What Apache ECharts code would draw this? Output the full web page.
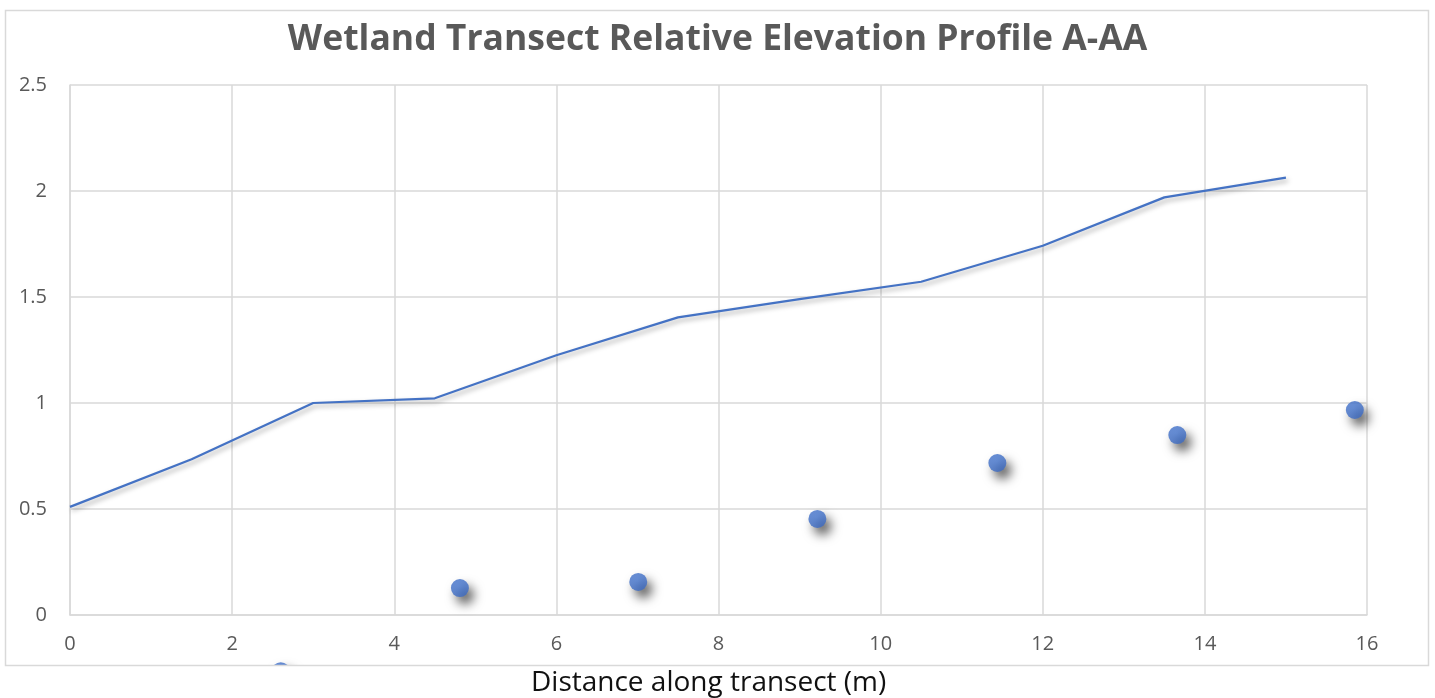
<!DOCTYPE html>
<html>
<head>
<meta charset="utf-8">
<script src="https://cdn.jsdelivr.net/npm/echarts@6/dist/echarts.min.js"></script>
<style>html,body{margin:0;padding:0;background:#fff;}#c{width:1435px;height:698px;}</style>
</head>
<body>
<div id="c"></div>
<script>
const titleText = 'Wetland Transect Relative Elevation Profile A-AA';
const xAxisTitle = 'Distance along transect (m)';
const profileX = [0, 1.5, 3, 4.5, 6, 7.5, 9, 10.5, 12, 13.5, 15];
const profileY = [0.51, 0.735, 1.0, 1.022, 1.225, 1.404, 1.49, 1.572, 1.742, 1.97, 2.063];
const pointX = [2.6, 4.81, 7.01, 9.22, 11.44, 13.66, 15.85];
const pointY = [-0.265, 0.127, 0.156, 0.453, 0.717, 0.849, 0.967];

const chart = echarts.init(document.getElementById('c'));
const font = "'Open Sans', 'Liberation Sans', sans-serif";
const blue = '#4472C4';
chart.setOption({
  backgroundColor: '#ffffff',
  animation: false,
  title: [
    { text: titleText, left: 'center', top: 17,
      textStyle: { fontFamily: font, fontSize: 35.5, fontWeight: 'bold', color: '#595959' } },
    { text: xAxisTitle, left: 526, top: 664, z: 30,
      textStyle: { fontFamily: font, fontSize: 28, fontWeight: 'normal', color: '#111111' } }
  ],
  graphic: [
    { type: 'rect', z: 20, silent: true, shape: { x: 0, y: 666, width: 1435, height: 32 }, style: { fill: '#ffffff' } },
    { type: 'rect', z: 25, silent: true, shape: { x: 5.5, y: 10.5, width: 1423, height: 655 }, style: { fill: 'none', stroke: '#d9d9d9', lineWidth: 1.5 } }
  ],
  grid: { left: 70, right: 68, top: 85, bottom: 83 },
  xAxis: {
    type: 'value', min: 0, max: 16, interval: 2,
    axisLine: { show: true, lineStyle: { color: '#d9d9d9', width: 1.5 } },
    axisTick: { show: false },
    splitLine: { show: true, lineStyle: { color: '#d9d9d9', width: 1.5 } },
    axisLabel: { margin: 19, fontFamily: font, fontSize: 20, color: '#595959' }
  },
  yAxis: {
    type: 'value', min: 0, max: 2.5, interval: 0.5,
    axisLine: { show: true, lineStyle: { color: '#d9d9d9', width: 1.5 } },
    axisTick: { show: false },
    splitLine: { show: true, lineStyle: { color: '#d9d9d9', width: 1.5 } },
    axisLabel: { margin: 23, fontFamily: font, fontSize: 20, color: '#595959' }
  },
  series: [
    {
      type: 'line', name: 'Profile',
      data: profileX.map((x, i) => [x, profileY[i]]),
      showSymbol: false, symbol: 'none',
      lineStyle: { color: blue, width: 2.2, shadowColor: 'rgba(0,0,0,0.35)', shadowBlur: 5, shadowOffsetX: 2, shadowOffsetY: 3 },
      z: 3
    },
    {
      type: 'scatter', name: 'Points', clip: false,
      data: pointX.map((x, i) => [x, pointY[i]]),
      symbol: 'circle', symbolSize: 18,
      itemStyle: {
        color: new echarts.graphic.RadialGradient(0.45, 0.4, 0.75, [
          { offset: 0, color: '#4677d0' }, { offset: 1, color: '#3a68c0' }
        ]),
        shadowColor: 'rgba(0,0,0,0.8)', shadowBlur: 11, shadowOffsetX: 5, shadowOffsetY: 7
      },
      z: 4
    }
  ]
});
</script>
</body>
</html>
